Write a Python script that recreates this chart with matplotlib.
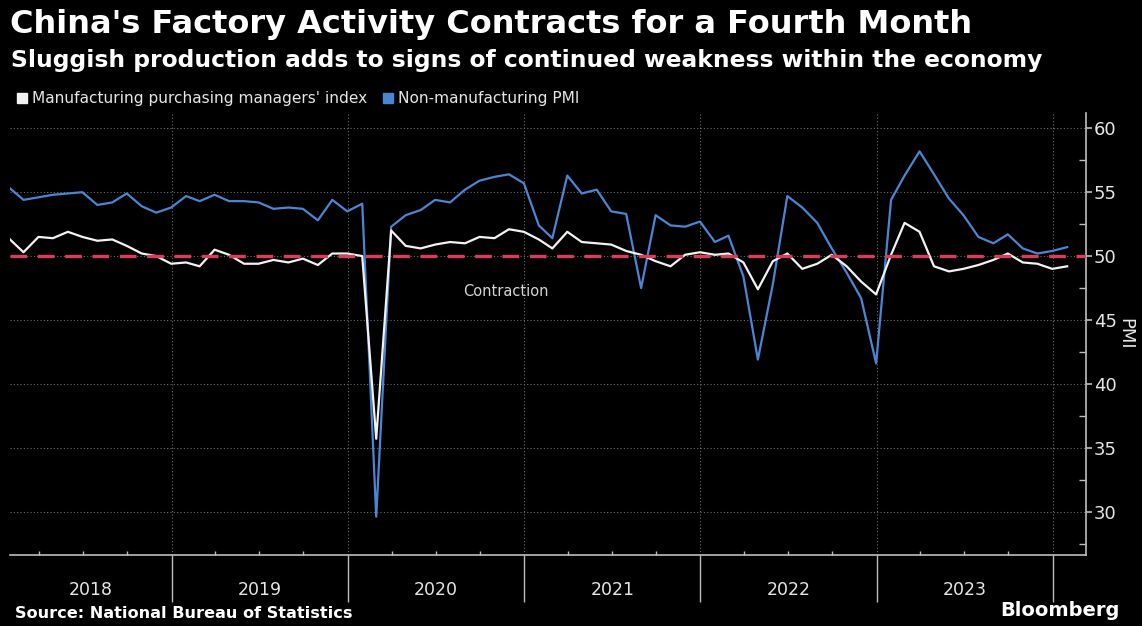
"""
China official PMI, manufacturing vs non-manufacturing, Bloomberg-style dark chart.
"""

import numpy as np
import pandas as pd
import matplotlib.pyplot as plt
import matplotlib.dates as mdates
from matplotlib.patches import Rectangle

BG = "#000000"
WHITE_LINE = "#f2f2f2"
BLUE_LINE = "#4a86d4"
RED_DASH = "#dc3c5a"
GRID = "#6a6a6a"
SPINE = "#bdbdbd"
TEXT = "#e6e6e6"

# monthly readings, Jan 2018 - Jan 2024
months = pd.date_range("2018-01-31", periods=73, freq="ME")

manufacturing = [
    51.3, 50.3, 51.5, 51.4, 51.9, 51.5, 51.2, 51.3, 50.8, 50.2, 50.0, 49.4,
    49.5, 49.2, 50.5, 50.1, 49.4, 49.4, 49.7, 49.5, 49.8, 49.3, 50.2, 50.2,
    50.0, 35.7, 52.0, 50.8, 50.6, 50.9, 51.1, 51.0, 51.5, 51.4, 52.1, 51.9,
    51.3, 50.6, 51.9, 51.1, 51.0, 50.9, 50.4, 50.1, 49.6, 49.2, 50.1, 50.3,
    50.1, 50.2, 49.5, 47.4, 49.6, 50.2, 49.0, 49.4, 50.1, 49.2, 48.0, 47.0,
    50.1, 52.6, 51.9, 49.2, 48.8, 49.0, 49.3, 49.7, 50.2, 49.5, 49.4, 49.0,
    49.2,
]

non_manufacturing = [
    55.3, 54.4, 54.6, 54.8, 54.9, 55.0, 54.0, 54.2, 54.9, 53.9, 53.4, 53.8,
    54.7, 54.3, 54.8, 54.3, 54.3, 54.2, 53.7, 53.8, 53.7, 52.8, 54.4, 53.5,
    54.1, 29.6, 52.3, 53.2, 53.6, 54.4, 54.2, 55.2, 55.9, 56.2, 56.4, 55.7,
    52.4, 51.4, 56.3, 54.9, 55.2, 53.5, 53.3, 47.5, 53.2, 52.4, 52.3, 52.7,
    51.1, 51.6, 48.4, 41.9, 47.8, 54.7, 53.8, 52.6, 50.6, 48.7, 46.7, 41.6,
    54.4, 56.3, 58.2, 56.4, 54.5, 53.2, 51.5, 51.0, 51.7, 50.6, 50.2, 50.4,
    50.7,
]

threshold = 50
years = [2018, 2019, 2020, 2021, 2022, 2023]
y_ticks = [30, 35, 40, 45, 50, 55, 60]

fig = plt.figure(figsize=(11.42, 6.26), dpi=100, facecolor=BG)
ax = fig.add_axes([10 / 1142, 71 / 626, 1076 / 1142, 442 / 626], facecolor=BG)

x_lo = pd.Timestamp("2018-01-31")
x_hi = pd.Timestamp("2024-03-10")
ax.set_xlim(x_lo, x_hi)
ax.set_ylim(26.6, 61.2)

ax.plot(months, manufacturing, color=WHITE_LINE, lw=1.6, zorder=4)
ax.plot(months, non_manufacturing, color=BLUE_LINE, lw=1.6, zorder=3)
ax.axhline(threshold, color=RED_DASH, lw=2.4, dashes=(5, 3.2), zorder=5)
ax.text(pd.Timestamp("2020-11-24"), 47.2, "Contraction", color="#d4d4d4",
        fontsize=10.5, ha="center", va="center")

# spines
for side in ("left", "top"):
    ax.spines[side].set_visible(False)
for side in ("right", "bottom"):
    ax.spines[side].set_color(SPINE)
    ax.spines[side].set_linewidth(1.2)

# y axis on the right
ax.yaxis.tick_right()
ax.set_yticks(y_ticks)
ax.set_yticks(np.arange(27.5, 61, 5), minor=True)
ax.tick_params(axis="y", which="major", direction="out", length=4, width=1.2,
               color=SPINE, labelcolor=TEXT, labelsize=13, pad=1.5)
ax.tick_params(axis="y", which="minor", direction="in", length=5, width=1,
               color=SPINE)
ax.yaxis.set_label_position("right")
ax.set_ylabel("PMI", color=TEXT, fontsize=13, rotation=270, labelpad=13)

# x axis: year separators below, quarter ticks above
ax.xaxis.set_major_locator(mdates.YearLocator())
ax.xaxis.set_minor_locator(mdates.MonthLocator(bymonth=[4, 7, 10]))
ax.tick_params(axis="x", which="major", direction="out", length=34, width=1,
               color=SPINE, labelbottom=False)
ax.tick_params(axis="x", which="minor", direction="in", length=3, width=1,
               color=SPINE)

ax.grid(True, which="major", color=GRID, linestyle=(0, (1, 2)), lw=0.8)

xt = ax.get_xaxis_transform()
for yr in years:
    start = max(pd.Timestamp(f"{yr}-01-01"), x_lo)
    end = pd.Timestamp(f"{yr + 1}-01-01")
    mid = start + (end - start) / 2
    ax.text(mid, -0.079, str(yr), transform=xt, color=TEXT, fontsize=12.5,
            ha="center", va="center")

# titles and legend
fig.text(10 / 1142, 1 - 25 / 626, "China's Factory Activity Contracts for a Fourth Month",
         color="white", fontsize=23, fontweight="bold", ha="left", va="center")
fig.text(11 / 1142, 1 - 61 / 626,
         "Sluggish production adds to signs of continued weakness within the economy",
         color="white", fontsize=16.8, fontweight="bold", ha="left", va="center")

legend_y = 1 - 98 / 626
for x0, color, label in [(17, WHITE_LINE, "Manufacturing purchasing managers' index"),
                         (383, BLUE_LINE, "Non-manufacturing PMI")]:
    fig.patches.append(Rectangle((x0 / 1142, legend_y - 5 / 626), 10 / 1142, 10 / 626,
                                 transform=fig.transFigure, color=color))
    fig.text((x0 + 15) / 1142, legend_y, label, color=TEXT, fontsize=11.1,
             ha="left", va="center")

fig.text(15 / 1142, 1 - 614 / 626, "Source: National Bureau of Statistics",
         color="white", fontsize=11.6, fontweight="bold", ha="left", va="center")
fig.text(1120 / 1142, 1 - 611 / 626, "Bloomberg", color="white", fontsize=14,
         fontweight="bold", ha="right", va="center")

fig.savefig("out.png", dpi=100, facecolor=BG)
